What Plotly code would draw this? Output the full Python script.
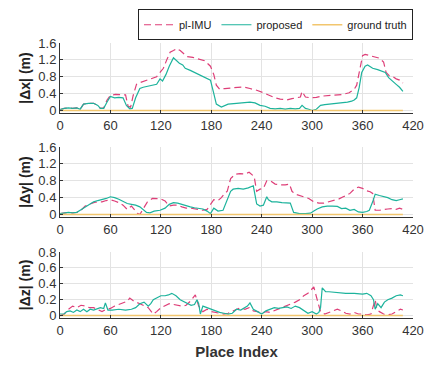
import plotly.graph_objects as go
from plotly.subplots import make_subplots

# ---- data ----
# |dx|
x_dx_prop = [0, 5, 10, 15, 20, 24, 28, 34, 40, 45, 48, 52, 56, 60, 65, 70, 75, 79, 83, 86,
             90, 95, 99, 105, 110, 115, 119, 122, 126, 130, 135, 138, 142, 146, 149, 155,
             162, 170, 176, 179, 183, 186, 192, 200, 210, 220, 226, 232, 238, 244, 250,
             256, 262, 268, 274, 280, 285, 288, 292, 296, 300, 305, 310, 315, 320, 326,
             332, 337, 342, 347, 350, 353, 356, 359, 363, 366, 372, 378, 383, 387, 391,
             395, 400, 404, 408]
dx_prop = [0.02, 0.05, 0.06, 0.05, 0.06, 0.03, 0.15, 0.17, 0.17, 0.12, 0.05, 0.05, 0.2, 0.33,
           0.3, 0.31, 0.3, 0.12, 0.04, 0.05, 0.3, 0.52, 0.55, 0.58, 0.6, 0.62, 0.75, 0.7,
           0.85, 1.05, 1.25, 1.2, 1.12, 1.08, 1.0, 0.95, 0.88, 0.8, 0.75, 0.72, 0.4, 0.15,
           0.08, 0.15, 0.17, 0.18, 0.2, 0.18, 0.12, 0.1, 0.05, 0.04, 0.05, 0.03, 0.05,
           0.04, 0.05, 0.12, 0.05, 0.03, 0.0, 0.03, 0.12, 0.14, 0.15, 0.16, 0.17, 0.18,
           0.2, 0.22, 0.25, 0.3, 0.55, 0.9, 1.05, 1.08, 1.0, 0.97, 0.93, 0.9, 0.78, 0.7,
           0.62, 0.55, 0.45]
x_dx_imu = [0, 5, 10, 15, 20, 24, 28, 34, 40, 45, 48, 52, 56, 60, 66, 72, 78, 81, 84, 87,
            91, 95, 100, 108, 115, 119, 123, 127, 131, 135, 139, 143, 147, 151, 158, 165,
            172, 179, 183, 186, 190, 196, 204, 212, 218, 226, 234, 242, 250, 256, 262,
            270, 276, 282, 286, 288, 292, 298, 305, 312, 320, 328, 336, 344, 350, 353,
            356, 360, 363, 368, 374, 380, 385, 388, 392, 396, 400, 404, 408]
dx_imu = [0.02, 0.05, 0.06, 0.05, 0.06, 0.03, 0.15, 0.17, 0.17, 0.12, 0.05, 0.06, 0.25, 0.36,
          0.38, 0.38, 0.37, 0.1, 0.08, 0.35, 0.62, 0.66, 0.7, 0.75, 0.8, 0.9, 1.0, 1.2,
          1.38, 1.42, 1.47, 1.42, 1.35, 1.28, 1.26, 1.22, 1.18, 1.05, 0.85, 0.6, 0.5,
          0.52, 0.54, 0.55, 0.56, 0.52, 0.48, 0.42, 0.35, 0.3, 0.27, 0.25, 0.28, 0.3,
          0.32, 0.45, 0.32, 0.3, 0.31, 0.34, 0.35, 0.36, 0.38, 0.42, 0.5, 0.6, 0.9, 1.3,
          1.33, 1.3, 1.26, 1.24, 1.15, 0.9, 0.82, 0.8, 0.75, 0.72, 0.65]

# |dy|
x_dy_prop = [0, 5, 10, 15, 20, 24, 30, 35, 40, 45, 50, 55, 60, 65, 70, 75, 80, 85, 90, 95,
             99, 103, 107, 112, 119, 125, 130, 135, 140, 145, 150, 155, 160, 165, 170,
             175, 179, 183, 188, 194, 199, 203, 206, 212, 218, 224, 230, 234, 238, 242,
             246, 248, 252, 258, 264, 270, 274, 278, 285, 292, 298, 302, 306, 312, 318,
             324, 330, 335, 340, 345, 350, 355, 360, 365, 368, 372, 375, 380, 385, 390,
             395, 400, 404, 408]
dy_prop = [0.02, 0.04, 0.05, 0.04, 0.05, 0.1, 0.18, 0.24, 0.3, 0.33, 0.35, 0.38, 0.42, 0.4,
           0.36, 0.3, 0.26, 0.24, 0.22, 0.18, 0.12, 0.05, 0.04, 0.08, 0.1, 0.15, 0.24,
           0.28, 0.27, 0.24, 0.2, 0.18, 0.16, 0.15, 0.13, 0.08, 0.02, 0.15, 0.08, 0.1,
           0.35, 0.55, 0.6, 0.62, 0.6, 0.63, 0.68, 0.25, 0.2, 0.22, 0.42, 0.35, 0.3, 0.3,
           0.28, 0.28, 0.27, 0.05, 0.02, 0.02, 0.03, 0.08, 0.13, 0.18, 0.2, 0.2, 0.19,
           0.14, 0.15, 0.1, 0.12, 0.06, 0.05, 0.07, 0.1, 0.3, 0.48, 0.45, 0.42, 0.4, 0.35,
           0.33, 0.35, 0.37]
x_dy_imu = [0, 5, 10, 15, 20, 25, 30, 35, 40, 45, 50, 55, 60, 65, 70, 75, 80, 85, 88, 92,
            95, 99, 104, 110, 115, 120, 125, 130, 135, 140, 145, 150, 155, 160, 165, 170,
            175, 179, 183, 188, 192, 196, 199, 203, 208, 214, 220, 225, 228, 231, 234,
            238, 242, 246, 250, 256, 262, 268, 273, 276, 280, 285, 290, 296, 302, 308,
            314, 320, 326, 332, 337, 341, 345, 350, 355, 360, 365, 369, 372, 375, 380,
            385, 390, 395, 400, 404, 408]
dy_imu = [0.02, 0.04, 0.05, 0.04, 0.05, 0.1, 0.2, 0.24, 0.28, 0.3, 0.3, 0.33, 0.35, 0.32,
          0.28, 0.22, 0.12, 0.2, 0.12, 0.03, 0.0, 0.15, 0.3, 0.38, 0.38, 0.37, 0.32, 0.2,
          0.22, 0.22, 0.18, 0.15, 0.15, 0.13, 0.12, 0.1, 0.12, 0.25, 0.35, 0.33, 0.4,
          0.5, 0.55, 0.85, 0.95, 0.97, 0.96, 1.0, 0.96, 0.9, 0.55, 0.6, 0.62, 0.8, 0.8,
          0.72, 0.7, 0.7, 0.72, 0.55, 0.48, 0.45, 0.42, 0.38, 0.3, 0.27, 0.27, 0.3, 0.33,
          0.37, 0.42, 0.45, 0.5, 0.6, 0.65, 0.62, 0.56, 0.54, 0.5, 0.1, 0.1, 0.12, 0.13,
          0.14, 0.12, 0.15, 0.12]

# |dz|
x_dz_prop = [0, 5, 8, 12, 16, 20, 24, 28, 32, 36, 40, 44, 48, 52, 54, 57, 62, 70, 78, 85,
             90, 95, 100, 105, 108, 111, 115, 120, 125, 129, 133, 138, 143, 148, 152, 156,
             160, 163, 165, 167, 170, 175, 180, 185, 190, 195, 200, 205, 210, 215, 220,
             223, 226, 230, 235, 240, 245, 250, 255, 260, 265, 270, 275, 280, 285, 290,
             295, 300, 305, 308, 310, 312, 316, 320, 330, 340, 350, 360, 365, 370, 373,
             375, 378, 382, 386, 390, 395, 400, 405, 408]
dz_prop = [0.02, 0.02, 0.05, 0.06, 0.04, 0.07, 0.05, 0.08, 0.05, 0.08, 0.07, 0.09, 0.1, 0.09,
           0.16, 0.07, 0.07, 0.08, 0.07, 0.08, 0.1, 0.15, 0.17, 0.12, 0.15, 0.2, 0.22,
           0.25, 0.25, 0.26, 0.28, 0.25, 0.2, 0.17, 0.15, 0.13, 0.14, 0.2, 0.15, 0.02,
           0.12, 0.1, 0.08, 0.05, 0.04, 0.03, 0.02, 0.03, 0.08, 0.07, 0.1, 0.12, 0.16,
           0.08, 0.05, 0.02, 0.06, 0.08, 0.1, 0.09, 0.1, 0.11, 0.09, 0.12, 0.1, 0.06,
           0.03, 0.05, 0.02, 0.04, 0.1, 0.35, 0.3, 0.3, 0.29, 0.28, 0.28, 0.27, 0.28,
           0.25, 0.2, 0.08, 0.15, 0.1, 0.17, 0.2, 0.22, 0.25, 0.26, 0.25]
x_dz_imu = [0, 5, 10, 15, 20, 25, 30, 35, 40, 45, 50, 55, 60, 65, 70, 75, 80, 83, 88, 95,
            100, 105, 111, 115, 120, 125, 130, 135, 140, 145, 150, 155, 161, 165, 170,
            175, 180, 185, 190, 195, 200, 205, 210, 215, 220, 225, 230, 235, 240, 245,
            250, 255, 260, 265, 270, 275, 280, 285, 290, 295, 302, 306, 310, 315, 320,
            325, 330, 335, 340, 345, 350, 355, 360, 365, 370, 375, 377, 380, 385, 390,
            395, 400, 405, 408]
dz_imu = [0.0, 0.02, 0.08, 0.12, 0.1, 0.13, 0.12, 0.1, 0.1, 0.08, 0.05, 0.08, 0.09, 0.12,
          0.14, 0.16, 0.18, 0.22, 0.18, 0.15, 0.12, 0.1, 0.02, 0.05, 0.1, 0.13, 0.15,
          0.14, 0.13, 0.12, 0.13, 0.18, 0.26, 0.12, 0.05, 0.08, 0.05, 0.04, 0.03, 0.02,
          0.03, 0.05, 0.07, 0.1, 0.08, 0.1, 0.06, 0.05, 0.03, 0.05, 0.04, 0.06, 0.08,
          0.1, 0.12, 0.14, 0.17, 0.2, 0.25, 0.28, 0.36, 0.2, 0.05, 0.02, 0.04, 0.06, 0.08,
          0.06, 0.03, 0.02, 0.04, 0.02, 0.02, 0.01, 0.02, 0.2, 0.08, 0.05, 0.02, 0.01,
          0.02, 0.05, 0.08, 0.07]

gt_x = [0, 408]
gt_y = [0, 0]

axis_titles = ['<b>|\u0394x| (m)</b>', '<b>|\u0394y| (m)</b>', '<b>|\u0394z| (m)</b>']

IMU_COLOR = '#DE3F78'
PROP_COLOR = '#1DB39C'
GT_COLOR = '#F2C66E'

fig = make_subplots(rows=3, cols=1, vertical_spacing=0.1)

panels = [
    (x_dx_imu, dx_imu, x_dx_prop, dx_prop),
    (x_dy_imu, dy_imu, x_dy_prop, dy_prop),
    (x_dz_imu, dz_imu, x_dz_prop, dz_prop),
]

for row, (xi, yi, xp, yp) in enumerate(panels, start=1):
    first = row == 1
    fig.add_trace(go.Scatter(x=xi, y=yi, mode='lines', name='pl-IMU', showlegend=first,
                             line=dict(color=IMU_COLOR, width=1.2, dash='7px,4px')),
                  row=row, col=1)
    fig.add_trace(go.Scatter(x=xp, y=yp, mode='lines', name='proposed', showlegend=first,
                             line=dict(color=PROP_COLOR, width=1.2)),
                  row=row, col=1)
    fig.add_trace(go.Scatter(x=gt_x, y=gt_y, mode='lines', name='ground truth', showlegend=first,
                             line=dict(color=GT_COLOR, width=1.5)),
                  row=row, col=1)

# panel geometry (pixels measured on the reference)
H = 275.0
domains = [((318 - 113) / H, 1.0), ((318 - 217) / H, (318 - 147) / H), (0.0, (318 - 252) / H)]
yranges = [[-0.06, 1.6], [-0.06, 1.6], [-0.03, 0.8]]
ydticks = [0.4, 0.4, 0.2]

for i in range(3):
    fig.update_yaxes(domain=list(domains[i]), range=yranges[i], dtick=ydticks[i], tick0=0,
                     showline=True, linecolor='#333', linewidth=1, ticks='inside', ticklen=3,
                     tickcolor='#333', showgrid=True, gridcolor='#e3e3e3', zeroline=False,
                     automargin=False,
                     title=dict(text=axis_titles[i], font=dict(size=14, color='#222'), standoff=4),
                     tickfont=dict(size=13, color='#333'), row=i + 1, col=1)
    fig.update_xaxes(range=[0, 420], dtick=60, tick0=0, showline=True, linecolor='#333',
                     linewidth=1.2, ticks='inside', ticklen=3, tickcolor='#333',
                     showgrid=True, gridcolor='#e3e3e3', zeroline=False, automargin=False,
                     tickfont=dict(size=13, color='#333'), row=i + 1, col=1)

fig.update_xaxes(title=dict(text='<b>Place Index</b>', font=dict(size=15, color='#333'), standoff=9),
                 row=3, col=1)

# the page body adds an 8px offset, so margins are shifted to compensate
fig.update_layout(
    width=435, height=365,
    margin=dict(l=52, r=30, t=35, b=55, autoexpand=False),
    plot_bgcolor='white', paper_bgcolor='white',
    font=dict(family='Liberation Sans, Arial, sans-serif'),
    legend=dict(orientation='h', x=1, xanchor='right', y=1.01, yanchor='bottom',
                bordercolor='#222', borderwidth=1, font=dict(size=11, color='#222'),
                itemwidth=30, tracegroupgap=0),
)

fig.write_html("out.html")
